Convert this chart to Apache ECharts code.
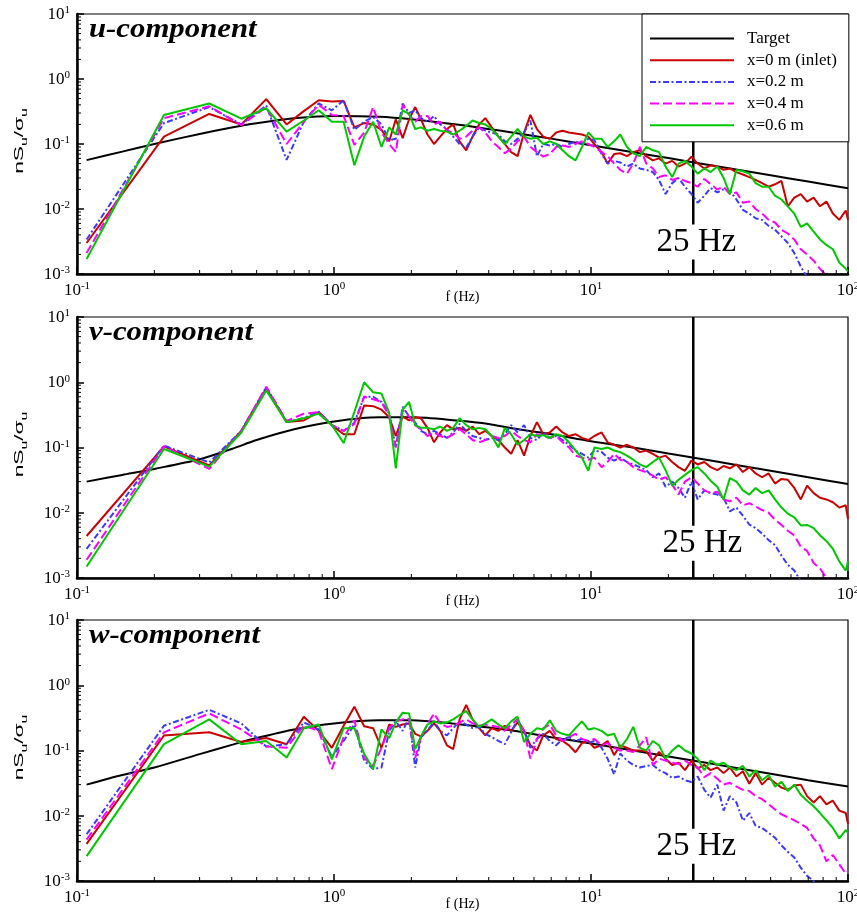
<!DOCTYPE html>
<html><head><meta charset="utf-8">
<script src="https://cdn.jsdelivr.net/npm/echarts@6/dist/echarts.min.js"></script>
<style>html,body{margin:0;padding:0;background:#fff}#c{width:857px;height:912px}</style>
</head><body><div id="c"></div>
<script>
// ---------- DATA ----------
const freq = [0.109,0.218,0.327,0.436,0.545,0.654,0.763,0.872,0.981,1.09,1.2,1.31,1.42,1.53,1.64,1.74,1.85,1.96,2.07,2.18,
  2.31,2.45,2.59,2.75,2.91,3.08,3.27,3.46,3.67,3.88,4.11,4.36,4.62,4.89,5.18,5.49,5.81,6.16,6.52,6.91,
  7.32,7.75,8.21,8.70,9.22,9.76,10.3,11.0,11.6,12.3,13.0,13.8,14.6,15.5,16.4,17.4,18.4,19.5,20.7,21.9,
  23.2,24.6,26.0,27.6,29.2,31.0,32.8,34.7,36.8,39.0,41.3,43.7,46.3,49.1,52.0,55.1,58.3,61.8,65.5,69.3,
  73.5,77.8,82.4,87.3,92.5,98.0,100];

const targetF = [0.109,0.15,0.2,0.3,0.4,0.5,0.7,1,1.5,2,3,4,5,7,10,15,20,30,50,70,100];
const targetU = [0.0565,0.0763,0.100,0.143,0.180,0.209,0.248,0.270,0.263,0.241,0.200,0.170,0.149,0.121,0.0958,0.0734,0.0607,0.0463,0.033,0.0264,0.0208];
const targetV = [0.030,0.038,0.047,0.066,0.095,0.13,0.19,0.25,0.29,0.29,0.26,0.23,0.195,0.16,0.125,0.098,0.081,0.062,0.044,0.035,0.0275];
const targetW = [0.030,0.042,0.055,0.088,0.122,0.155,0.21,0.26,0.29,0.29,0.255,0.225,0.2,0.16,0.128,0.098,0.081,0.062,0.044,0.035,0.028];

// u-component
const uX00 = [0.0030,0.13,0.29,0.20,0.49,0.20,0.32,0.47,0.45,0.46,0.18,0.21,0.20,0.165,0.11,0.24,0.123,0.24,0.37,0.24,
  0.14,0.10,0.13,0.17,0.20, 0.11,0.08,0.13,0.20,0.25, 0.18,0.13,0.10,0.075,0.065, 0.15,0.28,0.17,0.13,0.12,
  0.15,0.16,0.15,0.145,0.14, 0.13,0.10,0.075,0.05,0.07, 0.072,0.065,0.075,0.08,0.065, 0.056,0.06,0.05,0.055,0.045,
  0.05,0.064,0.05,0.042,0.047, 0.045,0.04,0.042,0.037,0.034, 0.031,0.028,0.025,0.022,0.024, 0.027,0.011,0.015,0.017,0.013,
  0.015,0.011,0.013,0.0085,0.0068, 0.0095,0.0068];
const uX02 = [0.0034,0.21,0.37,0.20,0.39,0.057,0.22,0.42,0.33,0.47,0.165,0.22,0.26,0.20,0.115,0.12,0.42,0.30,0.33,0.25,
  0.22,0.27,0.20,0.17,0.13, 0.10,0.088,0.13,0.18,0.16, 0.15,0.14,0.11,0.10,0.12, 0.15,0.23,0.065,0.10,0.095,
  0.10,0.09,0.10,0.11,0.10, 0.12,0.115,0.07,0.05,0.055, 0.052,0.045,0.05,0.042,0.04, 0.037,0.028,0.017,0.025,0.03,
  0.022,0.017,0.0125,0.016,0.021, 0.018,0.02,0.019,0.014,0.0097, 0.0085,0.0072,0.0068,0.0055,0.0048, 0.0038,0.003,0.0021,0.0013,0.0009,
  0.0007,0.0006,0.0005,0.0005,0.0005, 0.0005,0.0005];
const uX04 = [0.0021,0.25,0.38,0.195,0.37,0.10,0.22,0.40,0.28,0.27,0.097,0.15,0.37,0.15,0.10,0.075,0.40,0.28,0.22,0.27,
  0.27,0.20,0.22,0.16,0.15, 0.12,0.13,0.16,0.18,0.15, 0.11,0.09,0.072,0.085,0.11, 0.13,0.09,0.075,0.064,0.07,
  0.09,0.095,0.09,0.10,0.11, 0.10,0.09,0.075,0.065,0.05, 0.04,0.035,0.05,0.09,0.05, 0.042,0.031,0.033,0.028,0.03,
  0.027,0.025,0.022,0.029,0.024, 0.02,0.022,0.017,0.018,0.0125, 0.013,0.01,0.0085,0.0068,0.0062, 0.0048,0.0042,0.0034,0.0024,0.002,
  0.0016,0.0012,0.00095,0.0007,0.0006, 0.0005,0.0005];
const uX06 = [0.0017,0.28,0.42,0.245,0.355,0.155,0.23,0.33,0.22,0.22,0.047,0.13,0.22,0.09,0.18,0.14,0.33,0.29,0.17,0.18,
  0.16,0.17,0.16,0.155,0.14, 0.16,0.19,0.23,0.21,0.20, 0.17,0.13,0.10,0.13,0.17, 0.13,0.12,0.125,0.10,0.11,
  0.10,0.08,0.065,0.056,0.09, 0.15,0.12,0.12,0.09,0.11, 0.14,0.09,0.072,0.065,0.09, 0.08,0.075,0.045,0.031,0.05,
  0.055,0.045,0.035,0.042,0.037, 0.045,0.03,0.017,0.04,0.038, 0.035,0.025,0.022,0.022,0.016, 0.014,0.011,0.0085,0.0053,0.006,
  0.0045,0.0034,0.0028,0.0024,0.0015, 0.0012,0.0011];

// v-component
const vX00 = [0.0044,0.104,0.053,0.18,0.80,0.245,0.26,0.35,0.22,0.16,0.16,0.44,0.43,0.38,0.29,0.15,0.30,0.26,0.29,0.28,
  0.20,0.12,0.17,0.22,0.19, 0.20,0.18,0.21,0.16,0.18, 0.15,0.13,0.10,0.08,0.13, 0.075,0.15,0.245,0.16,0.17,
  0.21,0.17,0.15,0.16,0.14, 0.13,0.15,0.17,0.12,0.11, 0.10,0.11,0.10,0.085,0.09, 0.08,0.07,0.075,0.06,0.05,
  0.044,0.063,0.055,0.06,0.05, 0.045,0.052,0.048,0.055,0.042, 0.05,0.04,0.035,0.04,0.028, 0.033,0.032,0.024,0.016,0.026,
  0.02,0.017,0.016,0.0145,0.012, 0.013,0.008];
const vX02 = [0.0028,0.107,0.059,0.18,0.85,0.245,0.285,0.35,0.22,0.18,0.24,0.60,0.60,0.50,0.33,0.10,0.42,0.30,0.24,0.18,
  0.16,0.18,0.16,0.14,0.17, 0.23,0.18,0.15,0.14,0.13, 0.14,0.13,0.16,0.22,0.17, 0.22,0.14,0.13,0.17,0.14,
  0.15,0.13,0.11,0.09,0.08, 0.07,0.09,0.085,0.07,0.063, 0.07,0.06,0.055,0.05,0.045, 0.035,0.04,0.025,0.03,0.024,
  0.017,0.03,0.016,0.022,0.02, 0.019,0.017,0.0105,0.012,0.009, 0.0066,0.0058,0.0048,0.0038,0.0032, 0.0022,0.0016,0.0013,0.0009,0.0006,
  0.0005,0.0005,0.0005,0.0005,0.0005, 0.0005,0.0005];
const vX04 = [0.0019,0.104,0.047,0.18,0.85,0.255,0.33,0.35,0.22,0.18,0.23,0.60,0.55,0.50,0.30,0.10,0.38,0.30,0.22,0.19,
  0.15,0.17,0.15,0.14,0.16, 0.19,0.16,0.13,0.12,0.13, 0.15,0.14,0.15,0.18,0.15, 0.13,0.12,0.16,0.15,0.14,
  0.15,0.12,0.10,0.075,0.07, 0.065,0.07,0.05,0.06,0.08, 0.065,0.06,0.05,0.045,0.042, 0.037,0.032,0.035,0.027,0.019,
  0.03,0.035,0.028,0.022,0.02, 0.021,0.016,0.015,0.017,0.013, 0.014,0.0125,0.011,0.01,0.0078, 0.0065,0.0053,0.0045,0.003,0.0026,
  0.0017,0.0014,0.001,0.0008,0.0006, 0.0005,0.0005];
const vX06 = [0.0015,0.095,0.051,0.17,0.75,0.245,0.28,0.33,0.22,0.117,0.35,1.0,0.70,0.67,0.34,0.048,0.38,0.50,0.22,0.20,
  0.20,0.19,0.21,0.18,0.20, 0.28,0.22,0.19,0.20,0.19, 0.15,0.10,0.20,0.16,0.11, 0.13,0.16,0.15,0.155,0.14,
  0.16,0.15,0.12,0.09,0.07, 0.044,0.10,0.095,0.10,0.09, 0.085,0.075,0.065,0.055,0.05, 0.06,0.07,0.045,0.026,0.032,
  0.038,0.045,0.05,0.04,0.031, 0.025,0.016,0.034,0.03,0.022, 0.019,0.024,0.02,0.022,0.016, 0.012,0.0097,0.0085,0.0064,0.0065,
  0.0058,0.0045,0.0037,0.0028,0.0018, 0.0013,0.0018];

// w-component
const wX00 = [0.0037,0.17,0.19,0.135,0.155,0.125,0.33,0.20,0.11,0.24,0.47,0.235,0.22,0.11,0.25,0.23,0.25,0.26,0.18,0.165,
  0.20,0.26,0.20,0.12,0.105, 0.30,0.50,0.30,0.22,0.17, 0.22,0.20,0.24,0.20,0.27, 0.20,0.12,0.10,0.17,0.20,
  0.15,0.14,0.12,0.094,0.13, 0.14,0.11,0.12,0.14,0.085, 0.12,0.11,0.10,0.10,0.098, 0.07,0.095,0.075,0.06,0.065,
  0.05,0.07,0.053,0.06,0.05, 0.055,0.045,0.055,0.04,0.048, 0.031,0.045,0.03,0.038,0.032, 0.027,0.025,0.029,0.03,0.02,
  0.016,0.02,0.015,0.017,0.012, 0.011,0.0075];
const wX02 = [0.0052,0.24,0.42,0.26,0.115,0.125,0.27,0.21,0.08,0.14,0.25,0.07,0.052,0.055,0.20,0.28,0.20,0.32,0.055,0.16,
  0.20,0.28,0.20,0.17,0.22, 0.28,0.25,0.22,0.23,0.18, 0.16,0.14,0.125,0.19,0.30, 0.20,0.11,0.15,0.18,0.14,
  0.12,0.15,0.16,0.14,0.15, 0.13,0.14,0.11,0.075,0.043, 0.09,0.07,0.06,0.055,0.058, 0.06,0.05,0.045,0.038,0.04,
  0.035,0.033,0.04,0.025,0.019, 0.03,0.012,0.02,0.016,0.0084, 0.011,0.007,0.0065,0.0055,0.0046, 0.0035,0.0028,0.0023,0.0016,0.0012,
  0.001,0.0008,0.0006,0.0005,0.0005, 0.0005,0.0005];
const wX04 = [0.0043,0.19,0.37,0.21,0.115,0.11,0.24,0.20,0.052,0.16,0.29,0.077,0.058,0.11,0.22,0.28,0.30,0.30,0.077,0.16,
  0.25,0.37,0.26,0.23,0.24, 0.27,0.30,0.26,0.24,0.25, 0.24,0.23,0.20,0.25,0.30, 0.20,0.075,0.15,0.22,0.25,
  0.17,0.14,0.16,0.18,0.15, 0.14,0.15,0.12,0.13,0.11, 0.10,0.10,0.095,0.12,0.16, 0.06,0.075,0.07,0.065,0.062,
  0.07,0.06,0.055,0.039,0.045, 0.037,0.03,0.032,0.028,0.025, 0.024,0.02,0.018,0.015,0.0125, 0.0105,0.0095,0.0085,0.0075,0.0065,
  0.0045,0.0035,0.002,0.0025,0.0018, 0.0013,0.0014];
const wX06 = [0.0024,0.125,0.30,0.125,0.14,0.078,0.22,0.25,0.073,0.22,0.22,0.089,0.052,0.21,0.155,0.27,0.38,0.37,0.105,0.165,
  0.25,0.28,0.26,0.27,0.30, 0.35,0.40,0.30,0.23,0.26, 0.30,0.25,0.22,0.28,0.33, 0.135,0.18,0.22,0.21,0.29,
  0.20,0.18,0.17,0.22,0.28, 0.21,0.22,0.20,0.17,0.18, 0.11,0.15,0.23,0.11,0.10, 0.14,0.12,0.075,0.10,0.12,
  0.10,0.09,0.075,0.05,0.07, 0.06,0.065,0.055,0.05,0.058, 0.04,0.05,0.035,0.042,0.028, 0.033,0.024,0.03,0.021,0.017,
  0.014,0.011,0.0085,0.0065,0.0045, 0.006,0.0055];

const seriesNames = ['Target','x=0 m (inlet)','x=0.2 m','x=0.4 m','x=0.6 m'];
const panelTitles = ['u-component','v-component','w-component'];
const yAxisTitle = '{n|nS}{sub|u}{n|/σ}{sub|u}';
const minorTicksX = [0.2,0.3,0.4,0.5,0.6,0.7,0.8,0.9,2,3,4,5,6,7,8,9,20,30,40,50,60,70,80,90];
const minorTicksY = [0.002,0.003,0.004,0.005,0.006,0.007,0.008,0.009,0.02,0.03,0.04,0.05,0.06,0.07,0.08,0.09,
  0.2,0.3,0.4,0.5,0.6,0.7,0.8,0.9,2,3,4,5,6,7,8,9];
const cutoffHz = 25;
const cutoffLabel = '25 Hz';

// ---------- CHART ----------
const SERIF = '"Liberation Serif","Times New Roman",serif';
const SANS = '"Liberation Sans",Arial,sans-serif';
const X_MIN = 0.1, X_MAX = 100, Y_MIN = 0.001, Y_MAX = 10;
const panels = [
  {target: targetU, s: [uX00,uX02,uX04,uX06], top: 14, h: 260, hzY: 0.0031, hzOff: 3},
  {target: targetV, s: [vX00,vX02,vX04,vX06], top: 317, h: 261, hzY: 0.0034, hzOff: 9},
  {target: targetW, s: [wX00,wX02,wX04,wX06], top: 620, h: 261, hzY: 0.0034, hzOff: 3}
];
const colors = ['#000000','#cc0000','#3a3aff','#ff00ff','#00c800'];
const dashes = ['solid','solid',[6,2.5,2,2.5],[9,4],'solid'];

function powLabel(v){ const e = Math.round(Math.log10(v)); return '{b|10}{s|' + e + '}'; }
const labelRich = {
  b: {fontFamily: SERIF, fontSize: 17, color: '#000', lineHeight: 18, verticalAlign: 'bottom'},
  s: {fontFamily: SERIF, fontSize: 11, color: '#000', lineHeight: 18, verticalAlign: 'top'}
};

const grid = [], xAxis = [], yAxis = [], series = [], graphic = [];
panels.forEach((p, gi) => {
  grid.push({left: 77, top: p.top, width: 771, height: p.h, show: true, borderColor: '#000', borderWidth: 1.2,
    containLabel: false, outerBoundsMode: 'none'});
  xAxis.push({type: 'log', gridIndex: gi, logBase: 10, min: X_MIN, max: X_MAX,
    axisLine: {show: true, onZero: false, lineStyle: {color: '#000', width: 2.5}},
    axisTick: {show: true, inside: true, length: 7, lineStyle: {color: '#000', width: 1.5}},
    splitLine: {show: false}, minorTick: {show: false},
    axisLabel: {formatter: powLabel, rich: labelRich, margin: 7},
    name: 'f (Hz)', nameLocation: 'middle', nameGap: 16, nameMoveOverlap: false,
    nameTextStyle: {fontFamily: SERIF, fontSize: 14, color: '#000', verticalAlign: 'top'}});
  yAxis.push({type: 'log', gridIndex: gi, logBase: 10, min: Y_MIN, max: Y_MAX,
    axisLine: {show: true, onZero: false, lineStyle: {color: '#000', width: 2.5}},
    axisTick: {show: true, inside: true, length: 7, lineStyle: {color: '#000', width: 1.5}},
    splitLine: {show: false}, minorTick: {show: false},
    axisLabel: {formatter: powLabel, rich: labelRich, margin: 7}});

  // panel title (stretched like the original)
  graphic.push({type: 'text', x: 89, y: p.top + 3, scaleX: 1.14, silent: true, z: 50,
    style: {text: panelTitles[gi], fontFamily: SERIF, fontStyle: 'italic', fontWeight: 'bold', fontSize: 27,
      fill: '#000', align: 'left', verticalAlign: 'top'}});
  // y axis title (rotated, stretched)
  graphic.push({type: 'text', x: 21, y: p.top + p.h / 2 - 3, rotation: Math.PI / 2, scaleX: 1.75, silent: true, z: 50,
    style: {text: yAxisTitle, align: 'center', verticalAlign: 'middle', fill: '#000',
      rich: {n: {fontFamily: SANS, fontSize: 13, fill: '#000', lineHeight: 17, verticalAlign: 'top'},
             sub: {fontFamily: SANS, fontSize: 9, fill: '#000', lineHeight: 17, verticalAlign: 'bottom'}}}});

  // target
  series.push({type: 'line', name: seriesNames[0], xAxisIndex: gi, yAxisIndex: gi,
    data: targetF.map((f, i) => [f, p.target[i]]), smooth: 0.3, symbol: 'none', showSymbol: false,
    lineStyle: {color: colors[0], width: 2}, itemStyle: {color: colors[0]}, z: 2, animation: false});
  // 25 Hz cutoff line
  series.push({type: 'line', xAxisIndex: gi, yAxisIndex: gi, data: [[cutoffHz, Y_MIN], [cutoffHz, Y_MAX]],
    symbol: 'none', showSymbol: false, silent: true, lineStyle: {color: '#000', width: 2.5}, z: 2, animation: false});
  // measured
  p.s.forEach((arr, k) => {
    series.push({type: 'line', name: seriesNames[k+1], xAxisIndex: gi, yAxisIndex: gi,
      data: freq.map((f, i) => [f, arr[i]]), symbol: 'none', showSymbol: false, clip: true,
      lineStyle: {color: colors[k+1], width: 2, type: dashes[k+1]}, itemStyle: {color: colors[k+1]},
      z: 3, animation: false});
  });
  // 25 Hz label
  series.push({type: 'scatter', xAxisIndex: gi, yAxisIndex: gi, data: [[cutoffHz, p.hzY]], symbolSize: 0,
    silent: true, z: 10, animation: false, itemStyle: {opacity: 1},
    label: {show: true, position: 'inside', formatter: cutoffLabel, fontFamily: SERIF, fontSize: 33, color: '#000',
      opacity: 1, textBorderWidth: 0, backgroundColor: '#fff', padding: [1, 0, 1, 0], offset: [p.hzOff, 0]}});
  // minor ticks
  series.push({type: 'custom', xAxisIndex: gi, yAxisIndex: gi, silent: true, z: 6, animation: false, clip: false,
    encode: {x: 0, y: 1},
    data: minorTicksY.map(v => [X_MIN, v, 0]).concat(minorTicksX.map(v => [v, Y_MIN, 1])),
    renderItem: function(params, api) {
      const pt = api.coord([api.value(0), api.value(1)]);
      const kind = api.value(2);
      const shape = kind === 0 ? {x1: pt[0], y1: pt[1], x2: pt[0] + 4, y2: pt[1]}
                               : {x1: pt[0], y1: pt[1], x2: pt[0], y2: pt[1] - 4};
      return {type: 'line', shape: shape, style: {stroke: '#000', lineWidth: 1}};
    }});
});

const chart = echarts.init(document.getElementById('c'), null, {renderer: 'canvas'});
chart.setOption({
  animation: false,
  backgroundColor: '#fff',
  textStyle: {fontFamily: SERIF},
  legend: {data: seriesNames, orient: 'vertical', left: 642, top: 14, itemWidth: 84, itemHeight: 14, itemGap: 4.7,
    padding: [16, 12, 8, 7], backgroundColor: '#fff', borderColor: '#000', borderWidth: 1, borderRadius: 0,
    itemStyle: {opacity: 0},
    textStyle: {fontFamily: SERIF, fontSize: 17, color: '#000', padding: [0, 0, 0, 8]}, z: 20, selectedMode: false},
  graphic: graphic,
  grid: grid, xAxis: xAxis, yAxis: yAxis, series: series
});
</script></body></html>
